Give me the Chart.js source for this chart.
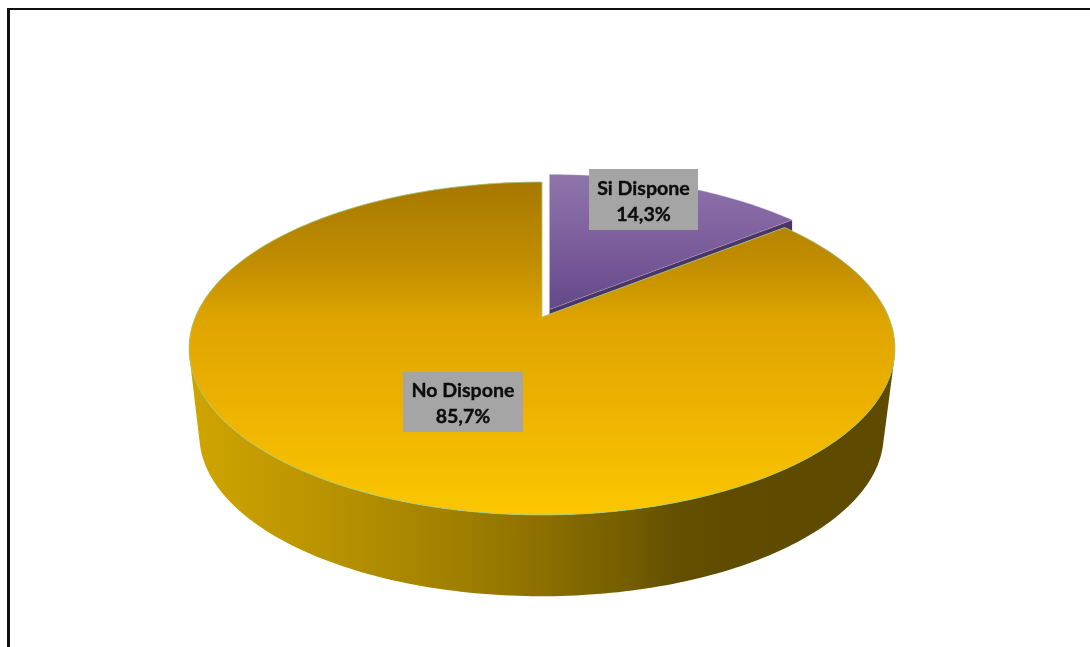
<!DOCTYPE html>
<html lang="es">
<head>
<meta charset="utf-8">
<title>Disponibilidad</title>
<script src="https://cdn.jsdelivr.net/npm/chart.js@4"></script>
<style>
  html, body { margin: 0; padding: 0; background: #fff; overflow: hidden; }
  #frame { position: absolute; left: 7px; top: 8px; width: 1100px; height: 700px;
           border-left: 3px solid #111; border-top: 2px solid #111; }
  #wrap { position: absolute; left: 0; top: 0; width: 1090px; height: 647px; }
</style>
</head>
<body>
<div id="wrap"><canvas id="pie" width="1090" height="647"></canvas></div>
<div id="frame"></div>
<script>
// Categories and their shares, in percent
const categories = ['Si Dispone', 'No Dispone'];
const shares = [14.3, 85.7];

// Perspective projection of the unit disc onto the tilted pie top
const TOP = { ax: 542, ay: 317, a: 346.6, b: 160.5, k: 0.189 };
// Rim of the base: same ellipse, slightly narrower, further down
const BASE = { ax: 541.5, ay: 404.5, a: 336, b: 155.5, k: 0.189 };
const EXPLODE = [{ dx: 7.5, dy: -7.5 }, { dx: 0, dy: 0 }];
const LABEL_BOXES = [
  { x: 589, y: 169, w: 109, h: 61 },
  { x: 403, y: 372, w: 120, h: 60 }
];

function project(p, angle) {
  const x = Math.cos(angle), y = Math.sin(angle);
  const w = 1 - p.k * y;
  return [p.ax + p.a * x / w, p.ay + p.b * y / w];
}

function arcPoints(p, start, end, dx = 0, dy = 0) {
  const n = Math.max(8, Math.ceil((end - start) / (Math.PI / 180)));
  const pts = [];
  for (let i = 0; i <= n; i++) {
    const [x, y] = project(p, start + (end - start) * i / n);
    pts.push([x + dx, y + dy]);
  }
  return pts;
}

function trace(ctx, pts) {
  pts.forEach(([x, y]) => ctx.lineTo(x, y));
}

function vGradient(ctx, y0, y1, stops) {
  const g = ctx.createLinearGradient(0, y0, 0, y1);
  stops.forEach(([o, c]) => g.addColorStop(o, c));
  return g;
}

// Adds the band swept between two rims, every quad wound the same way
function traceWall(ctx, upper, lower) {
  for (let i = 0; i < upper.length - 1; i++) {
    const q = [upper[i], upper[i + 1], lower[i + 1], lower[i]];
    let area = 0;
    q.forEach((pt, j) => {
      const nx = q[(j + 1) % 4];
      area += pt[0] * nx[1] - nx[0] * pt[1];
    });
    if (area < 0) q.reverse();
    ctx.moveTo(q[0][0], q[0][1]);
    q.slice(1).forEach(([x, y]) => ctx.lineTo(x, y));
    ctx.closePath();
  }
}

// Draws the arcs computed by the pie controller as a tilted, extruded disc
const tiltedPie = {
  id: 'tiltedPie',
  beforeDatasetDraw(chart) {
    const ctx = chart.ctx;
    const [si, no] = chart.getDatasetMeta(0).data;
    ctx.save();

    // Raised slice: cut wall first, then its top face
    const off = EXPLODE[0];
    const siPts = arcPoints(TOP, si.startAngle, si.endAngle, off.dx, off.dy);
    const apex = [TOP.ax + off.dx, TOP.ay + off.dy];
    const corner = siPts[siPts.length - 1];
    ctx.beginPath();
    ctx.moveTo(apex[0], apex[1]);
    ctx.lineTo(corner[0], corner[1]);
    ctx.lineTo(corner[0], corner[1] + 30);
    ctx.lineTo(apex[0], apex[1] + 30);
    ctx.closePath();
    ctx.fillStyle = '#4b3566';
    ctx.fill();

    ctx.beginPath();
    ctx.moveTo(apex[0], apex[1]);
    trace(ctx, siPts);
    ctx.closePath();
    ctx.fillStyle = vGradient(ctx, 175, 310, [[0, '#8f74ab'], [0.5, '#7d5e9d'], [1, '#634989']]);
    ctx.fill();
    ctx.lineWidth = 0.6;
    ctx.strokeStyle = 'rgba(190,180,215,0.6)';
    ctx.stroke();

    // Large slice: side wall
    const rimTop = arcPoints(TOP, no.startAngle, no.endAngle);
    const rimBase = arcPoints(BASE, no.startAngle, no.endAngle);
    ctx.beginPath();
    traceWall(ctx, rimTop, rimBase);
    const side = ctx.createLinearGradient(188, 0, 894, 0);
    [[0, '#d0a500'], [0.20, '#b89300'], [0.385, '#a07f00'], [0.51, '#8a6e00'],
     [0.63, '#735c00'], [0.69, '#635000'], [0.755, '#5f4c00'], [1, '#5e4a00']]
      .forEach(([o, c]) => side.addColorStop(o, c));
    ctx.fillStyle = side;
    ctx.fill();

    // Large slice: top face
    ctx.beginPath();
    ctx.moveTo(TOP.ax, TOP.ay);
    trace(ctx, rimTop);
    ctx.closePath();
    ctx.fillStyle = vGradient(ctx, 182, 515, [
      [0, '#a67800'], [0.25, '#c28e00'], [0.42, '#dfa500'], [0.68, '#edb200'], [1, '#fbc700']
    ]);
    ctx.fill();
    ctx.strokeStyle = 'rgba(165,205,130,0.85)';
    ctx.lineWidth = 1;
    ctx.stroke();

    ctx.restore();
    return false;
  },
  afterDatasetsDraw(chart) {
    const ctx = chart.ctx;
    ctx.save();
    ctx.textAlign = 'center';
    ctx.textBaseline = 'middle';
    ctx.font = 'bold 19.6px Lato, "Open Sans", sans-serif';
    ctx.lineWidth = 0.35;
    categories.forEach((name, i) => {
      const box = LABEL_BOXES[i];
      const cx = box.x + box.w / 2, cy = box.y + box.h / 2;
      const pct = shares[i].toFixed(1).replace('.', ',') + '%';
      ctx.fillStyle = '#a5a5a5';
      ctx.fillRect(box.x, box.y, box.w, box.h);
      ctx.fillStyle = '#0c0c0c';
      ctx.strokeStyle = '#0c0c0c';
      ctx.fillText(name, cx, cy - 11);
      ctx.strokeText(name, cx, cy - 11);
      ctx.fillText(pct, cx, cy + 15);
      ctx.strokeText(pct, cx, cy + 15);
    });
    ctx.restore();
  }
};

new Chart(document.getElementById('pie'), {
  type: 'pie',
  data: {
    labels: categories,
    datasets: [{ data: shares, backgroundColor: ['#7f5f9f', '#edb200'], borderWidth: 0 }]
  },
  options: {
    responsive: false,
    animation: false,
    rotation: 0,
    plugins: { legend: { display: false }, tooltip: { enabled: false } }
  },
  plugins: [tiltedPie]
});
</script>
</body>
</html>
